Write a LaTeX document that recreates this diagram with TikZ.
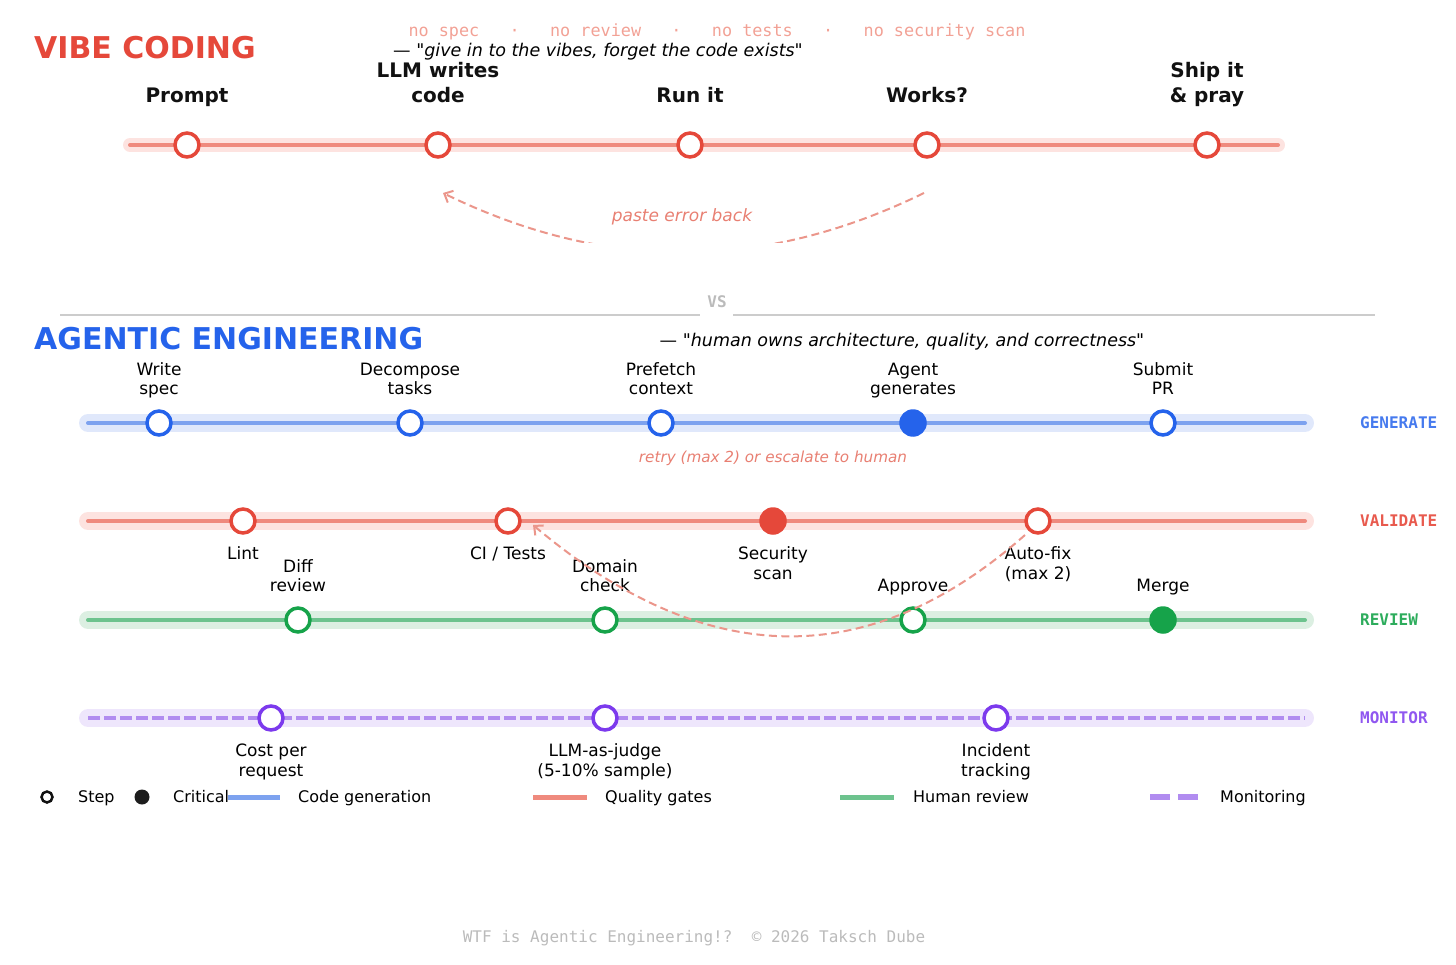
\documentclass[tikz,border=0pt]{standalone}
\usepackage{fontspec}
\setmainfont{DejaVu Sans}[Ligatures=TeXOff]
\setmonofont{DejaVu Sans Mono}
\usepackage{tikz}
\usetikzlibrary{arrows.meta}

\definecolor{vibered}{HTML}{E5483A}
\definecolor{railred}{HTML}{EF8A7E}
\definecolor{bandred}{HTML}{FDE3E0}
\definecolor{softred}{HTML}{F2A195}
\definecolor{loopred}{HTML}{EB968B}
\definecolor{notered}{HTML}{E87F72}
\definecolor{agblue}{HTML}{2563EB}
\definecolor{railblue}{HTML}{7DA2EF}
\definecolor{bandblue}{HTML}{E0E8FB}
\definecolor{aggreen}{HTML}{16A34A}
\definecolor{railgreen}{HTML}{6DC38E}
\definecolor{bandgreen}{HTML}{DCEFE2}
\definecolor{agpurple}{HTML}{7C3AED}
\definecolor{railpurple}{HTML}{B18CF0}
\definecolor{bandpurple}{HTML}{EEE6FC}
\definecolor{fadegrey}{HTML}{BBBBBB}
\definecolor{rulegrey}{HTML}{CCCCCC}
\definecolor{inkblack}{HTML}{111111}

\tikzset{
  rail/.style={line width=4pt, line cap=round, draw=#1},
  band/.style={line width=18pt, line cap=round, draw=#1},
  stepo/.style={circle, draw=#1, line width=3.5pt, fill=white,
     minimum size=24pt, inner sep=0pt},
  stepf/.style={circle, fill=#1, minimum size=27.5pt, inner sep=0pt},
  boldlbl/.style={font=\bfseries\fontsize{20}{25}\selectfont,
     text=inkblack, align=center, inner sep=0pt, anchor=south},
  uplbl/.style={font=\fontsize{17}{19.5}\selectfont,
     align=center, inner sep=0pt, anchor=south},
  downlbl/.style={font=\fontsize{17}{19.5}\selectfont,
     align=center, inner sep=0pt, anchor=north},
  tag/.style={font=\ttfamily\bfseries\fontsize{16}{19}\selectfont,
     text=#1, inner sep=0pt, anchor=west},
  legtext/.style={font=\fontsize{16}{19}\selectfont,
     inner sep=0pt, anchor=base west},
  looparrow/.style={draw=loopred, line width=2pt,
     dash pattern=on 8pt off 4.5pt,
     -{Straight Barb[length=7pt,width=13pt]}},
}

\begin{document}
\begin{tikzpicture}[x=1pt, y=-1pt]
   \useasboundingbox (0,0) rectangle (1456,965);

   % vibe coding
   \node (vibetitle) at (34,48) [anchor=west, inner sep=0pt, text=vibered,
      font=\bfseries\fontsize{30}{36}\selectfont] {VIBE CODING};
   \node (nots) at (717,37) [anchor=base, inner sep=0pt, text=softred,
      font=\ttfamily\fontsize{16.8}{20}\selectfont]
      {no spec \ \ ·\ \ \ no review \ \ ·\ \ \ no tests \ \ ·\ \ \ no security scan};
   \node (vibequote) at (598,57) [anchor=base, inner sep=0pt,
      font=\fontsize{17.5}{20}\selectfont]
      {— "\textit{give in to the vibes, forget the code exists}"};

   \coordinate (vibeL) at (130,145);
   \coordinate (vibeR) at (1278,145);
   \draw [band=bandred, line width=14pt] (vibeL) -- (vibeR);
   \draw [rail=railred] (vibeL) -- (vibeR);

   \node (prompt) at (187,145) [stepo=vibered] {};
   \node (llm) at (438,145) [stepo=vibered] {};
   \node (runit) at (690,145) [stepo=vibered] {};
   \node (works) at (927,145) [stepo=vibered] {};
   \node (ship) at (1207,145) [stepo=vibered] {};

   \node (tprompt) at (187,110) [boldlbl] {\strut Prompt};
   \node (tllm) at (438,110) [boldlbl] {\strut LLM writes\\\strut code};
   \node (trunit) at (690,110) [boldlbl] {\strut Run it};
   \node (tworks) at (927,110) [boldlbl] {\strut Works?};
   \node (tship) at (1207,110) [boldlbl] {\strut Ship it\\\strut \& pray};

   \coordinate (pasteA) at ([xshift=-3pt,yshift=-48pt]works.center);
   \coordinate (pasteB) at ([xshift=5pt,yshift=-48pt]llm.center);
   \begin{scope}
      \clip (0,0) rectangle (1456,243);
      \draw [looparrow] (pasteA) .. controls (760,273) and (603,271) .. (pasteB);
   \end{scope}
   \node (paste) at (682,222) [anchor=base, inner sep=0pt, text=notered,
      font=\itshape\fontsize{17}{20}\selectfont] {paste error back};

   % divider
   \node (vs) at (717,302) [inner sep=0pt, text=fadegrey,
      font=\ttfamily\bfseries\fontsize{16}{19}\selectfont] {VS};
   \draw [rulegrey, line width=1.2pt] (60,315) -- (700,315);
   \draw [rulegrey, line width=1.2pt] (733,315) -- (1375,315);

   % agentic engineering
   \node (agtitle) at (34,339) [anchor=west, inner sep=0pt, text=agblue,
      font=\bfseries\fontsize{30}{36}\selectfont] {AGENTIC ENGINEERING};
   \node (agquote) at (902,347) [anchor=base, inner sep=0pt,
      font=\fontsize{17.5}{20}\selectfont]
      {— "\textit{human owns architecture, quality, and correctness}"};

   \coordinate (genL) at (88,423);
   \coordinate (genR) at (1305,423);
   \coordinate (valL) at (88,521);
   \coordinate (valR) at (1305,521);
   \coordinate (revL) at (88,620);
   \coordinate (revR) at (1305,620);
   \coordinate (monL) at (88,718);
   \coordinate (monR) at (1305,718);

   \draw [band=bandblue] (genL) -- (genR);
   \draw [rail=railblue] (genL) -- (genR);
   \draw [band=bandred] (valL) -- (valR);
   \draw [rail=railred] (valL) -- (valR);
   \draw [band=bandgreen] (revL) -- (revR);
   \draw [rail=railgreen] (revL) -- (revR);
   \draw [band=bandpurple] (monL) -- (monR);
   \draw [rail=railpurple, line cap=butt, dash pattern=on 11.5pt off 4.5pt] (monL) -- (monR);

   % generate
   \node (wspec) at (159,423) [stepo=agblue] {};
   \node (decomp) at (410,423) [stepo=agblue] {};
   \node (prefetch) at (661,423) [stepo=agblue] {};
   \node (agent) at (913,423) [stepf=agblue] {};
   \node (submit) at (1163,423) [stepo=agblue] {};
   \node (twspec) at (159,401) [uplbl] {\strut Write\\\strut spec};
   \node (tdecomp) at (410,401) [uplbl] {\strut Decompose\\\strut tasks};
   \node (tprefetch) at (661,401) [uplbl] {\strut Prefetch\\\strut context};
   \node (tagent) at (913,401) [uplbl] {\strut Agent\\\strut generates};
   \node (tsubmit) at (1163,401) [uplbl] {\strut Submit\\\strut PR};
   \node (ggen) at (1360,423) [tag=agblue!85] {GENERATE};

   \node (retry) at (773,462) [anchor=base, inner sep=0pt, text=notered,
      font=\itshape\fontsize{15.2}{18}\selectfont] {retry (max 2) or escalate to human};

   % validate
   \node (lint) at (243,521) [stepo=vibered] {};
   \node (citests) at (508,521) [stepo=vibered] {};
   \node (secscan) at (773,521) [stepf=vibered] {};
   \node (autofix) at (1038,521) [stepo=vibered] {};
   \node (tlint) at (243,546) [downlbl] {\strut Lint};
   \node (tcitests) at (508,546) [downlbl] {\strut CI / Tests};
   \node (tsecscan) at (773,546) [downlbl] {\strut Security\\\strut scan};
   \node (tautofix) at (1038,546) [downlbl] {\strut Auto-fix\\\strut (max 2)};
   \node (gval) at (1360,521) [tag=vibered!90] {VALIDATE};

   % review
   \node (diffrev) at (298,620) [stepo=aggreen] {};
   \node (domain) at (605,620) [stepo=aggreen] {};
   \node (approve) at (913,620) [stepo=aggreen] {};
   \node (merge) at (1163,620) [stepf=aggreen] {};
   \node (tdiffrev) at (298,598) [uplbl] {\strut Diff\\\strut review};
   \node (tdomain) at (605,598) [uplbl] {\strut Domain\\\strut check};
   \node (tapprove) at (913,598) [uplbl] {\strut Approve};
   \node (tmerge) at (1163,598) [uplbl] {\strut Merge};
   \node (grev) at (1360,620) [tag=aggreen!90] {REVIEW};

   % monitor
   \node (cost) at (271,718) [stepo=agpurple] {};
   \node (judge) at (605,718) [stepo=agpurple] {};
   \node (incident) at (996,718) [stepo=agpurple] {};
   \node (tcost) at (271,743) [downlbl] {\strut Cost per\\\strut request};
   \node (tjudge) at (605,743) [downlbl] {\strut LLM-as-judge\\\strut (5-10\% sample)};
   \node (tincident) at (996,743) [downlbl] {\strut Incident\\\strut tracking};
   \node (gmon) at (1360,718) [tag=agpurple!85] {MONITOR};

   % retry loop
   \coordinate (retryA) at ([xshift=-13pt,yshift=-14pt]autofix.center);
   \coordinate (retryB) at ([xshift=25pt,yshift=-4pt]citests.center);
   \draw [looparrow] (retryA) .. controls (869,673) and (705,670) .. (retryB);

   % legend
   \node (kstep) at (47,797) [circle, draw=inkblack, line width=2.5pt,
      minimum size=11pt, inner sep=0pt] {};
   \node (tkstep) at (78,802.5) [legtext] {Step};
   \node (kcrit) at (142,797) [circle, fill=inkblack!95, minimum size=15pt,
      inner sep=0pt] {};
   \node (tkcrit) at (173,802.5) [legtext] {Critical};
   \draw [railblue, line width=5pt] (228,797) -- (280,797);
   \node (tkgen) at (298,802.5) [legtext] {Code generation};
   \draw [railred, line width=5pt] (533,797) -- (587,797);
   \node (tkval) at (605,802.5) [legtext] {Quality gates};
   \draw [railgreen, line width=5pt] (840,797) -- (894,797);
   \node (tkrev) at (913,802.5) [legtext] {Human review};
   \draw [railpurple, line width=6pt, dash pattern=on 20pt off 8pt] (1150,797) -- (1198,797);
   \node (tkmon) at (1220,802.5) [legtext] {Monitoring};

   \node (footer) at (694,942) [anchor=base, inner sep=0pt, text=fadegrey,
      font=\ttfamily\fontsize{16}{19}\selectfont]
      {WTF is Agentic Engineering!? \ © 2026 Taksch Dube};
\end{tikzpicture}
\end{document}
